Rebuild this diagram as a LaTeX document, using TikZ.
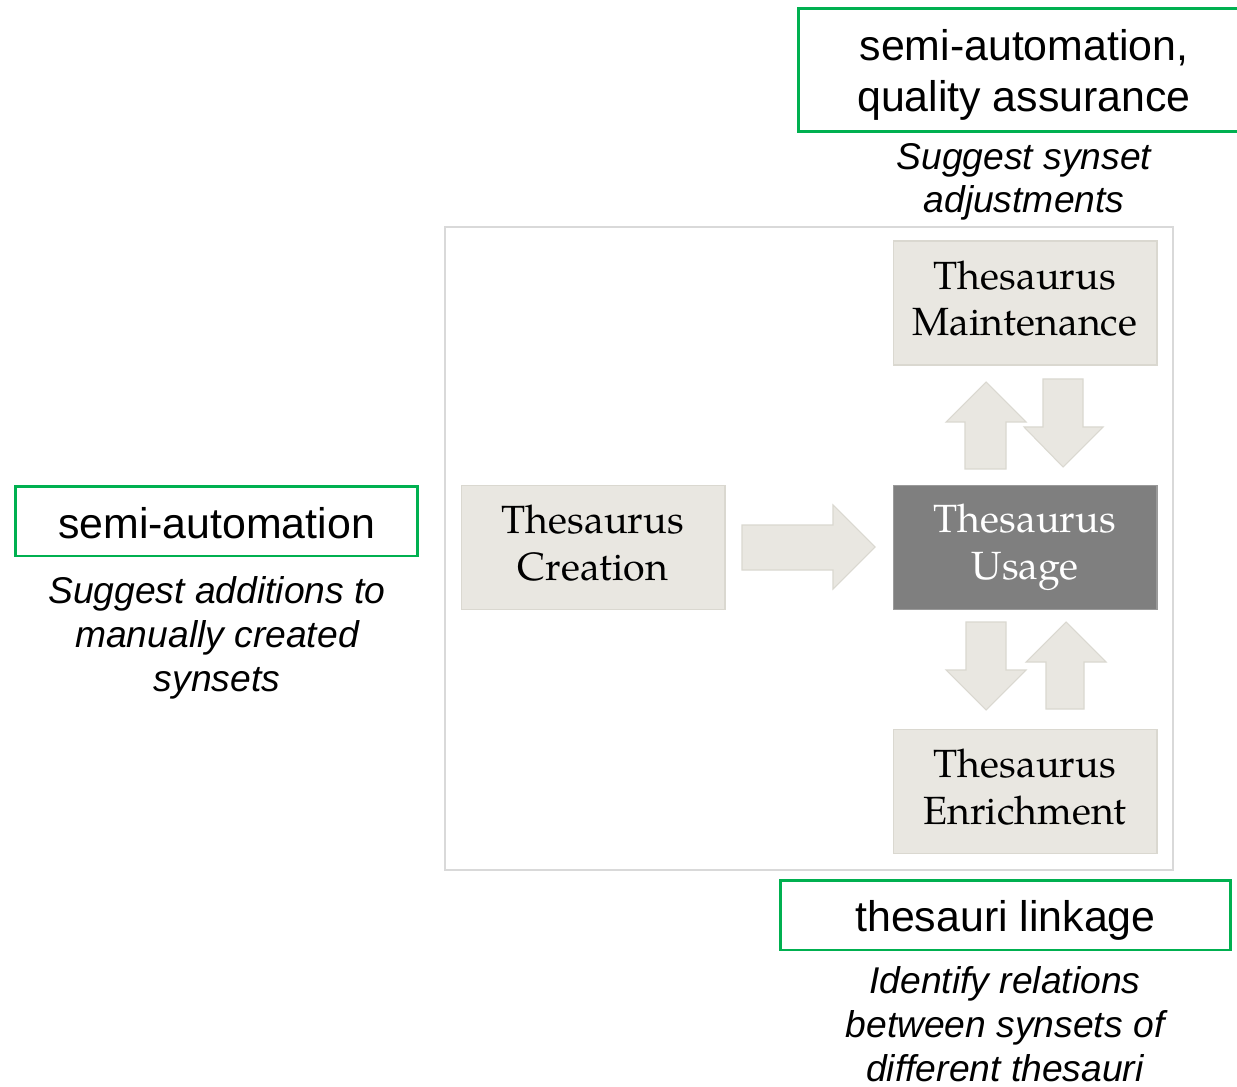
\documentclass[tikz,border=0pt]{standalone}
\usepackage{fontspec}
\setmainfont{Liberation Sans}
\newfontfamily\pag{TeX Gyre Pagella}
\definecolor{boxfill}{HTML}{E9E7E1}
\definecolor{boxedge}{HTML}{DAD8D0}
\definecolor{usagefill}{HTML}{7F7F7F}
\definecolor{usageedge}{HTML}{9A9A9A}
\definecolor{grn}{HTML}{00B050}
\definecolor{frame}{HTML}{D9D9D9}
\tikzset{
  stage/.style={rectangle, fill=boxfill, draw=boxedge, line width=0.6pt,
    minimum width=5.28cm, minimum height=2.48cm, inner sep=0pt},
  usage/.style={stage, fill=usagefill, draw=usageedge},
  stagetext/.style={align=center, inner sep=0pt, text=black,
    font=\pag\fontsize{22.4}{26.5}\selectfont},
  tag/.style={rectangle, draw=grn, line width=1.7pt, inner sep=0pt},
  tagtext/.style={align=center, inner sep=0pt, font=\fontsize{24.4}{29}\selectfont},
  note/.style={align=center, font=\itshape\fontsize{21.2}{24.5}\selectfont, inner sep=0pt},
  blockarrow/.style={fill=boxfill, draw=boxedge, line width=0.6pt, line join=miter}
}
\begin{document}
\begin{tikzpicture}[x=0.02cm,y=-0.02cm]
\useasboundingbox (0,0) rectangle (1237,1087);
\clip (0,0) rectangle (1237,1087);
\fill[white] (0,0) rectangle (1237,1087);
% frame
\draw[frame, line width=0.6pt] (445,227) rectangle (1173,870);
% stage boxes
\node[stage] (maint) at (1025,303) {};
\node[stagetext] (mainttext) at ([yshift=0.09cm]maint.center) {Thesaurus\\Maintenance};
\node[stage] (create) at (593,547.5) {};
\node[stagetext] (createtext) at ([yshift=0.09cm]create.center) {Thesaurus\\Creation};
\node[usage] (use) at (1025,547.5) {};
\node[stagetext, text=white] (usetext) at (use.center) {Thesaurus\\Usage};
\node[stage] (enrich) at (1025,791.5) {};
\node[stagetext] (enrichtext) at ([yshift=0.09cm]enrich.center) {Thesaurus\\Enrichment};
% block arrows
\draw[blockarrow] (742,525) -- (833,525) -- (833,505) -- (875,547) -- (833,589) -- (833,570) -- (742,570) -- cycle;
\draw[blockarrow] (965,469) -- (965,422) -- (946,422) -- (986,382) -- (1026,422) -- (1006,422) -- (1006,469) -- cycle;
\draw[blockarrow] (1043,379) -- (1083,379) -- (1083,427) -- (1103,427) -- (1063,467) -- (1024,427) -- (1043,427) -- cycle;
\draw[blockarrow] (966,622) -- (1006,622) -- (1006,670) -- (1026,670) -- (986,710) -- (946,670) -- (966,670) -- cycle;
\draw[blockarrow] (1046,709) -- (1046,662) -- (1026,662) -- (1066,622) -- (1106,662) -- (1084,662) -- (1084,709) -- cycle;
% green tags
\node[tag, minimum width=9.0cm, minimum height=2.46cm, anchor=north west] (qa) at (797,7) {};
\node[tagtext] (qatext) at (1024,75) {semi-automation,\\quality assurance};
\node[note] (qanote) at (1024,182) {Suggest synset\\adjustments};
\node[tag, minimum width=8.06cm, minimum height=1.4cm] (sa) at (216.5,521) {};
\node[tagtext] (satext) at (216.5,523) {semi-automation};
\node[note, font=\itshape\fontsize{21.2}{25.2}\selectfont] (sanote) at (217,638) {Suggest additions to\\manually created\\synsets};
\node[tag, minimum width=9.02cm, minimum height=1.4cm] (tl) at (1005.5,915) {};
\node[tagtext] (tltext) at (1005.5,920) {thesauri linkage};
\node[note, anchor=north, font=\itshape\fontsize{21.2}{25}\selectfont] (tlnote) at (1005,966) {Identify relations\\between synsets of\\different thesauri};
\end{tikzpicture}
\end{document}
